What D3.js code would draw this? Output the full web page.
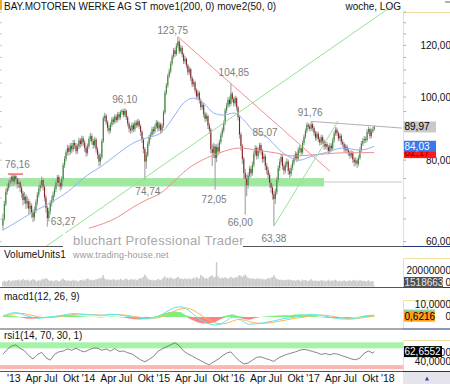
<!DOCTYPE html>
<html><head><meta charset="utf-8">
<script src="https://cdn.jsdelivr.net/npm/d3@7"></script>
<style>
body{margin:0;background:#fff}
svg{display:block}
text{font-family:"Liberation Sans",Arial,sans-serif}
</style></head>
<body><svg id="chart" width="450" height="384"></svg>
<script>
// ---------------- DATA ----------------
const startDate = new Date(2012, 11, 17);   // first weekly candle
const firstOpen = 63.5;
const closes = [
65.0,68.5,71.5,72.5,73.8,74.5,75.5,74.2,75.6,74.8,
73.5,74.0,72.6,71.2,69.5,70.3,68.6,69.2,67.4,68.1,
66.5,65.4,67.0,68.9,70.8,72.4,73.3,74.6,72.8,70.1,
67.6,65.2,66.8,68.7,69.4,70.9,72.3,73.9,75.4,73.8,
72.9,74.8,78.6,80.4,82.3,83.6,82.4,84.2,83.1,85.0,
84.3,82.6,83.9,85.8,84.7,86.4,85.2,83.5,82.1,84.0,
86.2,87.1,85.6,84.4,86.0,83.2,81.5,79.6,80.8,85.5,
92.8,93.6,91.5,89.6,88.8,90.7,92.4,91.6,93.3,92.2,
94.1,93.0,94.8,95.2,93.9,95.3,93.1,91.0,89.4,88.9,
90.6,89.2,91.3,90.5,91.8,90.2,88.4,86.1,83.2,79.6,
81.5,84.8,86.9,87.5,89.2,88.6,90.1,91.4,89.5,90.8,
88.9,90.3,94.7,101.5,104.2,107.8,109.5,112.6,115.3,117.9,
116.4,119.8,121.6,117.6,119.0,116.2,113.5,114.4,111.8,109.1,
110.3,106.9,104.6,105.3,102.4,100.2,101.5,98.8,96.5,97.2,
94.1,92.6,93.5,90.4,89.1,83.2,82.1,84.0,80.6,83.8,
82.5,85.3,87.4,88.9,91.2,95.4,97.1,99.0,97.6,101.2,
99.3,97.8,99.6,96.4,93.2,87.6,84.1,80.3,76.5,74.9,
73.2,75.8,77.6,76.4,78.7,81.9,83.5,81.2,82.8,84.4,
82.6,80.3,81.1,78.4,77.2,75.9,73.8,72.6,70.9,69.7,
71.4,74.6,77.8,79.5,80.9,78.3,77.1,78.8,79.6,77.0,
76.2,77.9,79.3,80.6,81.8,80.5,82.9,83.4,82.2,85.0,
86.9,88.7,90.6,90.1,89.4,90.8,89.6,88.1,86.6,87.8,
86.2,85.1,86.8,85.5,84.0,84.7,83.8,82.6,84.2,83.4,
85.8,87.9,89.1,88.0,86.4,87.2,85.3,84.6,83.1,83.9,
82.8,82.1,81.3,82.0,80.2,79.4,79.9,79.0,80.6,82.9,
84.8,85.6,86.2,85.9,88.4,89.3,87.1,88.6,89.2,89.97];
const highs = [
66.2,69.3,72.3,73.6,74.7,75.4,76.0,75.9,76.16,76.0,
75.3,75.1,74.6,73.4,71.8,71.5,70.9,70.4,69.8,69.2,
68.7,67.2,67.9,69.6,71.5,73.2,74.2,75.5,75.2,73.4,
70.8,68.1,67.6,69.4,70.5,71.7,73.1,74.6,76.0,75.9,
74.5,75.6,79.3,81.2,83.0,84.5,84.3,85.0,85.1,85.9,
86.0,85.0,84.8,86.6,86.5,87.3,87.1,85.9,84.3,84.9,
87.0,88.1,87.8,86.3,86.9,86.6,83.9,82.2,81.9,86.3,
93.6,94.6,94.2,92.1,90.5,91.5,93.2,93.3,94.1,94.0,
94.9,94.8,95.5,95.9,95.8,96.10,95.7,93.6,91.7,90.3,
91.4,91.3,92.0,92.1,92.6,92.4,90.8,89.0,86.7,83.8,
82.4,85.5,87.6,88.4,90.0,90.1,90.9,92.2,92.0,91.6,
91.4,91.1,95.5,102.4,105.1,108.7,110.6,113.5,116.2,118.9,
119.1,120.9,123.75,122.5,120.2,119.8,116.9,115.6,115.0,112.5,
111.4,110.9,107.6,106.5,105.9,103.1,102.6,102.1,99.5,98.3,
97.8,94.9,94.6,94.0,91.2,89.7,84.6,85.1,84.7,84.6,
84.9,86.1,88.2,89.8,92.0,96.2,98.0,99.9,100.2,104.85,
101.9,100.0,100.5,100.2,97.0,93.8,88.3,84.7,81.0,77.6,
76.0,76.6,78.5,78.3,79.6,82.7,84.3,84.1,83.7,85.07,
85.0,83.2,82.1,81.7,79.2,78.0,76.5,74.6,73.4,71.8,
72.3,75.4,78.6,80.4,81.8,81.5,79.0,79.6,80.5,80.2,
77.8,78.7,80.1,81.4,82.6,82.4,83.7,84.4,84.0,85.8,
87.7,89.5,91.4,91.3,90.9,91.76,91.4,90.2,88.8,88.6,
88.4,86.9,87.6,87.4,86.1,85.6,85.4,84.4,85.0,84.9,
86.6,88.7,89.9,89.8,88.6,88.0,87.8,86.1,85.2,84.7,
84.5,83.5,82.8,82.8,82.6,80.9,80.8,80.5,81.4,83.7,
85.6,86.5,87.1,87.0,89.2,90.1,89.8,89.4,90.0,90.5];
const lows = [
62.4,64.6,68.0,70.8,71.9,72.8,73.6,73.1,73.4,73.7,
72.4,72.6,71.5,70.1,68.2,68.6,67.3,67.5,66.1,66.3,
65.2,64.3,64.6,66.4,68.2,70.1,71.6,72.5,71.9,69.2,
66.5,63.27,64.4,66.0,67.9,68.8,70.2,71.5,73.0,72.7,
71.8,72.2,74.1,77.8,79.6,81.4,81.3,81.6,82.0,82.4,
83.2,81.7,81.8,83.2,83.6,84.0,84.1,82.4,81.0,81.3,
83.3,85.4,84.5,83.3,83.6,82.1,80.3,78.2,78.5,80.2,
85.0,91.8,90.6,88.5,87.7,88.1,90.0,90.7,90.9,91.2,
91.5,92.1,92.3,94.0,93.0,93.2,92.2,90.1,88.3,87.8,
88.2,88.3,88.5,89.6,89.9,89.3,87.2,85.0,81.9,74.74,
77.6,80.9,84.1,86.0,86.8,87.6,87.9,89.4,88.5,88.7,
87.8,88.2,89.7,94.1,100.6,103.4,106.9,108.7,111.8,114.5,
115.2,115.7,119.0,116.4,116.7,115.0,112.3,112.5,110.6,108.0,
108.2,105.8,103.5,103.7,101.3,99.1,99.4,97.7,95.4,95.6,
93.0,91.5,91.8,89.3,87.9,81.9,78.4,80.6,72.05,79.4,
81.3,81.9,84.6,86.7,88.2,90.6,94.5,96.3,96.5,97.0,
98.2,96.7,97.0,95.3,92.0,86.3,82.8,79.0,74.9,66.00,
70.4,72.4,75.0,75.3,75.7,78.0,81.1,80.2,80.4,82.0,
81.5,79.2,79.4,77.3,76.1,74.7,72.6,71.3,69.6,63.38,
68.5,70.8,73.9,77.0,78.7,77.3,76.0,76.4,78.0,75.9,
75.1,75.5,77.2,78.6,79.9,79.5,79.8,82.0,81.3,81.6,
84.3,86.2,88.0,89.2,88.5,88.7,88.6,87.1,85.6,85.9,
85.3,84.2,84.4,84.6,83.0,83.2,82.9,81.7,82.0,82.5,
82.8,85.1,87.2,87.1,85.5,85.7,84.4,83.7,82.2,82.4,
81.9,81.2,80.4,80.6,79.3,78.2,78.5,77.8,78.3,80.1,
82.3,84.1,84.9,85.0,85.4,87.7,86.2,86.5,88.0,88.8];
// weekly volume, millions of shares
const volumes = [
6.0,7.2,5.8,6.5,8.1,7.0,6.2,7.6,6.8,7.9,
7.4,8.6,6.9,7.8,9.2,8.0,7.1,8.4,7.3,6.6,
7.9,9.0,8.2,7.0,6.4,7.7,6.9,8.3,9.5,8.8,
10.2,9.1,7.6,6.8,7.4,6.5,7.0,8.0,7.2,6.3,
6.9,8.5,9.8,8.1,7.4,6.7,7.5,6.4,7.1,8.2,
6.8,7.6,5.9,6.6,7.9,7.3,8.4,7.0,8.8,9.6,
8.7,7.5,8.3,7.2,8.0,9.1,8.5,10.4,9.3,11.0,
13.8,9.6,8.2,8.9,7.6,8.4,7.8,9.0,8.1,7.3,
8.6,7.9,9.4,8.2,7.5,8.8,9.7,8.3,7.7,8.5,
9.2,8.0,8.9,7.6,8.4,9.5,10.3,9.8,11.6,14.5,
12.1,9.4,8.6,7.9,8.3,7.2,8.0,7.5,9.1,8.4,
7.8,8.9,10.6,12.4,9.8,10.9,9.2,11.3,10.1,8.7,
9.6,10.4,11.8,10.2,9.0,9.7,8.6,10.0,9.3,8.8,
9.9,8.5,9.4,10.7,9.1,11.5,10.3,9.6,13.9,12.6,
10.8,9.7,10.4,9.2,11.6,12.8,13.4,10.9,11.8,29.5,
12.2,10.5,9.6,10.8,9.9,11.4,10.2,9.3,10.6,11.9,
10.4,9.8,11.2,10.6,12.3,13.8,12.9,11.5,13.2,14.6,
12.0,10.7,9.5,10.3,9.1,9.8,8.7,9.4,10.2,8.9,
9.6,8.4,9.0,8.2,9.3,10.1,9.5,10.8,11.4,13.6,
11.2,9.0,8.6,7.9,8.4,7.6,8.1,7.3,8.0,8.7,
7.5,8.2,7.1,7.8,6.9,7.6,8.3,7.2,6.7,8.5,
7.4,8.0,7.2,6.6,7.7,8.9,7.3,6.8,7.5,6.4,
7.1,6.5,7.9,6.8,7.4,6.2,7.0,8.1,6.6,7.3,
6.9,7.6,8.4,7.0,6.4,7.2,6.0,6.8,7.5,6.3,
7.0,6.6,7.8,6.2,7.3,8.0,6.9,7.4,6.5,8.2,
7.2,6.4,7.0,6.1,6.8,7.5,6.3,5.9,6.6,1.518663];
// moving averages: [week index], [value]
const ma50Weeks = [0,7,21,33,45,59,68,80,91,100,110,114,119,126,133,140,147,154,161,168,174,184,193,207,214,226,237,249,259];
const ma50Vals  = [62.5,63.8,66.6,68.8,71.5,75.9,78.1,81.8,85.0,86.5,88.0,89.9,93.2,97.9,99.6,97.9,94.5,93.8,94.5,92.2,89.0,86.8,82.9,80.0,80.9,82.3,83.5,82.9,84.03];
const ma200Weeks = [60,80,91,100,110,119,128,142,151,165,177,190,202,216,237,259];
const ma200Vals  = [62.9,65.4,67.8,69.5,71.2,74.1,77.3,80.6,82.1,83.5,82.9,82.1,81.2,81.5,82.1,82.17];
// MACD (every 4 weeks, last one = final week)
const macdVals = [0.8,2.5,3.6,2.8,1.1,-0.3,-1.1,-0.8,-0.3,0.3,1.1,1.9,2.8,2.5,1.9,1.7,1.7,1.1,1.7,2.2,1.9,1.1,0.3,-0.6,-1.1,-1.7,-1.1,0.3,2.8,5.6,7.8,8.3,6.7,3.1,-1.1,-3.9,-5.8,-6.7,-5.8,-3.1,-0.3,-0.6,-4.2,-6.1,-5.8,-5.3,-4.4,-3.6,-2.5,-1.4,-0.8,0,0.8,1.7,2.2,1.7,0.8,-0.3,-1.1,-1.7,-1.9,-1.7,-0.6,0.6,1.2,1.6];
const signalVals = [0.4,1.5,2.6,3.0,2.4,1.3,0.2,-0.5,-0.6,-0.3,0.3,1.0,1.8,2.3,2.3,2.0,1.8,1.5,1.5,1.8,2.0,1.7,1.0,0.3,-0.4,-1.1,-1.3,-0.8,0.6,2.8,5.0,6.8,7.4,6.0,3.2,0.0,-2.8,-4.8,-5.8,-5.3,-3.6,-2.2,-2.5,-3.9,-5.0,-5.4,-5.2,-4.6,-3.8,-2.9,-2.0,-1.2,-0.5,0.3,1.1,1.5,1.4,0.8,0.1,-0.6,-1.2,-1.5,-1.3,-0.4,0.1,0.6216];
const histVals = [0.8,1.2,1.0,-0.3,-1.3,-1.6,-1.3,-0.3,0.3,0.8,1.2,1.5,1.6,1.2,0.6,0.2,0.1,-0.4,0.2,0.4,0.2,-0.5,-1.3,-2.0,-2.2,-1.6,-0.3,1.0,2.6,4.0,4.6,3.8,1.2,-2.5,-4.6,-5.6,-5.4,-4.2,-1.8,1.2,2.2,0.8,-1.8,-2.3,-1.0,-0.1,0.6,0.9,1.1,1.3,1.4,1.9,2.2,2.0,1.3,0.4,-0.4,-0.9,-1.2,-1.2,-0.9,-0.5,0.2,0.9,1.1,1.0];
// RSI (every 3 weeks, last one = final week)
const rsiVals = [56,68,76,79,70,65,53,45,55,61,48,42,56,62,64,69,66,71,65,62,67,71,71,66,69,64,70,63,64,60,57,50,43,38,44,51,63,69,74,79,84,77,64,57,52,46,41,35,31,38,44,52,59,62,50,40,33,35,42,49,50,46,43,39,47,52,56,59,62,66,68,66,63,60,56,58,55,58,56,52,49,45,43,47,59,64,59,62.6552];
// pivots: [week index, 'h' | 'l']
const pivots = [[8,'h'],[31,'l'],[85,'h'],[99,'l'],[122,'h'],[148,'l'],[159,'h'],[169,'l'],[179,'h'],[189,'l'],[215,'h']];
// trend lines: [[week, price],[week, price]]
const trendRed   = [[122,123.75],[228.2,76.9]];
const trendGreen = [[29.4,58.86],[271.4,137.9]];
const trendGreen2= [[189,63.38],[233.8,91.9]];
const trendGray  = [[215,91.76],[278.4,89.6]];
const levelRed   = [[3.6,76.16],[14,76.16]];
const supportBand = [72.9, 75.1], supportBandEnd = 224, supportLine = 74.05, supportLineEnd = 278.4;
// axis ticks
const priceTicks = [60,80,100,120];
const volTicks = [0, 20000000];
const macdTicks = [0, 10];
const rsiTicks = [40, 60];
const rsiBands = [[70.5,85],[20.5,30]];
const xTickLabels = ["'13","Apr","Jul","Okt","'14","Apr","Jul","Okt","'15","Apr","Jul","Okt","'16","Apr","Jul","Okt","'17","Apr","Jul","Okt","'18"];
const titleText = "BAY.MOTOREN WERKE AG ST move1(200, 0) move2(50, 0)";
const periodText = "woche, LOG";

// ---------------- HELPERS ----------------
const loc = d3.formatLocale({decimal:",", thousands:".", grouping:[3], currency:["",""]});
const f2 = loc.format(".2f"), f4 = loc.format(".4f"), f0 = d3.format("d");
const svg = d3.select("#chart");
const PR = 403;
const DAY = 864e5;
const wk = i => new Date(startDate.getTime() + i*7*DAY);
const x = d3.scaleTime().domain([new Date(2013,0,1), new Date(2018,0,1)]).range([6,380]);
const xi = i => x(wk(i));
const yP = d3.scaleLog().domain([60,120]).range([241.6,45.4]);
const yV = d3.scaleLinear().domain([0,20000000]).range([286.5,270]);
const yM = d3.scaleLinear().domain([0,10]).range([316.9,304.9]);
const yR = d3.scaleLinear().domain([40,60]).range([361,352.7]);

const defs = svg.append("defs");
defs.append("clipPath").attr("id","cMain").append("rect").attr("x",0).attr("y",0).attr("width",PR).attr("height",246);
defs.append("clipPath").attr("id","cAx").append("rect").attr("x",403).attr("y",0).attr("width",47).attr("height",384);

// ---------------- MAIN PANEL ----------------
const main = svg.append("g").attr("clip-path","url(#cMain)");
main.append("rect").attr("x",xi(-3)).attr("width",xi(supportBandEnd)-xi(-3))
  .attr("y",yP(supportBand[1])).attr("height",yP(supportBand[0])-yP(supportBand[1]))
  .attr("fill","#a0e8a0");
main.append("line").attr("x1",xi(supportBandEnd)).attr("x2",xi(supportLineEnd))
  .attr("y1",yP(supportLine)).attr("y2",yP(supportLine)).attr("stroke","#c8c8c8").attr("stroke-width",1);

const opens = closes.map((c,i)=> i ? closes[i-1] : firstOpen);
const idx = d3.range(closes.length);
main.append("g").selectAll("line").data(idx).join("line")
  .attr("x1",i=>xi(i)).attr("x2",i=>xi(i))
  .attr("y1",i=>yP(highs[i])).attr("y2",i=>yP(lows[i]))
  .attr("stroke","#a9a9a9").attr("stroke-width",1.2);
main.append("g").selectAll("rect").data(idx).join("rect")
  .attr("x",i=>xi(i)-0.5).attr("width",1)
  .attr("y",i=>yP(Math.max(opens[i],closes[i])))
  .attr("height",i=>Math.max(1, Math.abs(yP(opens[i])-yP(closes[i]))))
  .attr("fill",i=> closes[i]>=opens[i] ? "#2a8a2a" : "#8c1c1c");

const lineW = d3.line().x(d=>xi(d[0])).y(d=>yP(d[1]));
const lineS = d3.line().x(d=>xi(d[0])).y(d=>yP(d[1])).curve(d3.curveMonotoneX);
main.append("path").attr("d",lineS(ma200Weeks.map((w,k)=>[w,ma200Vals[k]]))).attr("fill","none").attr("stroke","#f08c8c").attr("stroke-width",1);
main.append("path").attr("d",lineS(ma50Weeks.map((w,k)=>[w,ma50Vals[k]]))).attr("fill","none").attr("stroke","#94b2f2").attr("stroke-width",1);
[[trendRed,"#f29090"],[trendGreen,"#94e294"],[trendGreen2,"#94e294"],[trendGray,"#b0b0b0"],[levelRed,"#f07070"]].forEach(([t,c],k)=>{
  main.append("path").attr("d",lineW(t)).attr("fill","none").attr("stroke",c).attr("stroke-width",k===4?1.6:1);
});

// pivot labels (offsets are layout only)
const pivotOff = {8:[3,-10],31:[16,-5],85:[0,-9],99:[3,12],122:[-5,-6],148:[-1,10],159:[3,-11],169:[-5,8],179:[5.5,-10],189:[0,12],215:[-1,-9]};
svg.append("g").selectAll("text").data(pivots).join("text")
  .attr("x",d=>xi(d[0])+pivotOff[d[0]][0]).attr("y",d=>yP(d[1]==='h'?highs[d[0]]:lows[d[0]])+pivotOff[d[0]][1])
  .attr("dy","0.35em").attr("text-anchor","middle").attr("font-size",10).attr("fill","#7c7c7c")
  .text(d=>f2(d[1]==='h'?highs[d[0]]:lows[d[0]]));

// bottom border of main + watermark
svg.append("line").attr("x1",0).attr("x2",PR).attr("y1",246.5).attr("y2",246.5).attr("stroke","#555");
svg.append("rect").attr("x",63).attr("y",233).attr("width",180).attr("height",15).attr("fill","#fff");
svg.append("text").attr("x",73).attr("y",245).attr("font-size",13).attr("letter-spacing",0.3).attr("fill","#a8a8a8").text("bluchart Professional Trader");

// title
svg.append("rect").attr("x",0).attr("y",0).attr("width",2).attr("height",10).attr("fill","#f5a623");
svg.append("text").attr("x",4).attr("y",9.8).attr("font-size",10).attr("fill","#111").text(titleText);
svg.append("text").attr("x",401).attr("y",9.8).attr("font-size",10).attr("text-anchor","end").attr("fill","#111").text(periodText);
svg.append("rect").attr("x",445).attr("y",1).attr("width",5).attr("height",2).attr("fill","#b0b0b0");

// ---------------- VOLUME ----------------
svg.append("text").attr("x",4).attr("y",257.8).attr("font-size",10).attr("fill","#111").text("VolumeUnits1");
svg.append("text").attr("x",73).attr("y",257.8).attr("font-size",9).attr("letter-spacing",0.2).attr("fill","#9a9a9a").text("www.trading-house.net");
svg.append("g").selectAll("rect").data(idx).join("rect")
  .attr("x",i=>xi(i)-0.75).attr("width",1.5)
  .attr("y",i=>yV(volumes[i]*1e6)).attr("height",i=>yV(0)-yV(volumes[i]*1e6))
  .attr("fill","#cacaca");
svg.append("line").attr("x1",0).attr("x2",PR).attr("y1",287.5).attr("y2",287.5).attr("stroke","#555");

// ---------------- MACD ----------------
svg.append("text").attr("x",4).attr("y",300).attr("font-size",10).attr("fill","#111").text("macd1(12, 26, 9)");
const mWeeks = macdVals.map((v,k)=> k===macdVals.length-1 ? closes.length-1 : k*4);
const hist = histVals.map((v,k)=>[mWeeks[k], v]);
const areaPos = d3.area().x(d=>xi(d[0])).y0(yM(0)).y1(d=>yM(Math.max(0,d[1])));
const areaNeg = d3.area().x(d=>xi(d[0])).y0(yM(0)).y1(d=>yM(Math.min(0,d[1])));
svg.append("path").attr("d",areaPos(hist)).attr("fill","#7cf07c");
svg.append("path").attr("d",areaNeg(hist)).attr("fill","#ff8282");
const lineM = d3.line().x(d=>xi(d[0])).y(d=>yM(d[1])).curve(d3.curveMonotoneX);
svg.append("path").attr("d",lineM(signalVals.map((v,k)=>[mWeeks[k],v]))).attr("fill","none").attr("stroke","#ffb555").attr("stroke-width",1);
svg.append("path").attr("d",lineM(macdVals.map((v,k)=>[mWeeks[k],v]))).attr("fill","none").attr("stroke","#55e8f0").attr("stroke-width",1);
svg.append("line").attr("x1",0).attr("x2",PR).attr("y1",329).attr("y2",329).attr("stroke","#555");

// ---------------- RSI ----------------
svg.append("text").attr("x",4).attr("y",338.6).attr("font-size",10).attr("fill","#111").text("rsi1(14, 70, 30, 1)");
svg.append("g").selectAll("rect").data(rsiBands).join("rect")
  .attr("x",0).attr("width",PR).attr("y",d=>yR(d[1])).attr("height",d=>yR(d[0])-yR(d[1]))
  .attr("fill",(d,k)=>k===0?"#a6f2a6":"#ffb4b4");
const rWeeks = rsiVals.map((v,k)=> k===rsiVals.length-1 ? closes.length-1 : k*3);
svg.append("path").attr("d",d3.line().x(d=>xi(d[0])).y(d=>yR(d[1]))(rsiVals.map((v,k)=>[rWeeks[k],v])))
  .attr("fill","none").attr("stroke","#666").attr("stroke-width",0.8);
svg.append("line").attr("x1",0).attr("x2",PR).attr("y1",371.5).attr("y2",371.5).attr("stroke","#555");

// ---------------- X AXIS ----------------
const xTickDates = xTickLabels.map((l,k)=> new Date(2013, k*3, 1));
svg.append("g").selectAll("text").data(xTickLabels).join("text")
  .attr("x",(d,k)=>x(xTickDates[k])+1).attr("y",381.8).attr("font-size",10.5).attr("fill","#111").text(d=>d);

// ---------------- RIGHT AXIS COLUMN ----------------
const ax = svg.append("g").attr("clip-path","url(#cAx)");
ax.append("rect").attr("x",403).attr("y",372).attr("width",47).attr("height",12).attr("fill","#e4e4ea");
ax.append("path").attr("d","M425,380.5L427,376.5L429,380.5Z").attr("fill","#2a46a8");
[[12,246.5],[258,287.5],[300,329],[340,371.5]].forEach(([t,b])=>{
  ax.append("path").attr("d",`M450,${t+0.5}H403.5V${b}`).attr("fill","none").attr("stroke","#f5dfa0");
  ax.append("line").attr("x1",403).attr("x2",450).attr("y1",b).attr("y2",b).attr("stroke","#223377");
});
// minor ticks
d3.range(60,136,5).forEach(p=>{
  ax.append("line").attr("x1",403.5).attr("x2",406).attr("y1",yP(p)).attr("y2",yP(p)).attr("stroke","#999").attr("stroke-width",0.8);
  svg.append("line").attr("x1",0).attr("x2",2).attr("y1",yP(p)).attr("y2",yP(p)).attr("stroke","#bbb").attr("stroke-width",0.8);
});
const tick = (val,y,txt)=> ax.append("text").attr("x",451).attr("y",y).attr("dy","0.35em").attr("text-anchor","end").attr("font-size",10).attr("fill","#111").text(txt);
priceTicks.forEach(p=>tick(p,yP(p),f2(p)));
tick(volTicks[1], yV(volTicks[1]), f0(volTicks[1]));
tick(volTicks[0], yV(volTicks[0])-4, f0(volTicks[0]));
macdTicks.forEach(v=>tick(v,yM(v),v===0?"0":f4(v)));
rsiTicks.forEach(v=>tick(v,yR(v),f4(v)));

const box = (y,w,bg,fg,txt)=>{
  ax.append("rect").attr("x",404).attr("y",y-5.5).attr("width",w).attr("height",11).attr("fill",bg);
  if(txt) ax.append("text").attr("x",404.5).attr("y",y).attr("dy","0.35em").attr("font-size",10).attr("fill",fg).text(txt);
};
const lastI = closes.length-1;
box(yP(closes[lastI]), 32, "#c9c9c9", "#000", f2(closes[lastI]));
box(yP(ma200Vals[ma200Vals.length-1]), 32, "#ff1a1a", "#7a0000", f2(ma200Vals[ma200Vals.length-1]));
box(yP(ma50Vals[ma50Vals.length-1]), 32, "#3c78e8", "#fff", f2(ma50Vals[ma50Vals.length-1]));
box(yV(0)-4, 39, "#505050", "#e8e8e8", f0(Math.round(volumes[lastI]*1e6)));
box(yM(macdVals[macdVals.length-1]), 31, "#5ef0f0", "#000", null);
box(yM(signalVals[signalVals.length-1]), 31, "#ff9f1a", "#000", f4(signalVals[signalVals.length-1]));
box(yR(rsiVals[rsiVals.length-1]), 38, "#000", "#fff", f4(rsiVals[rsiVals.length-1]));
</script></body></html>
